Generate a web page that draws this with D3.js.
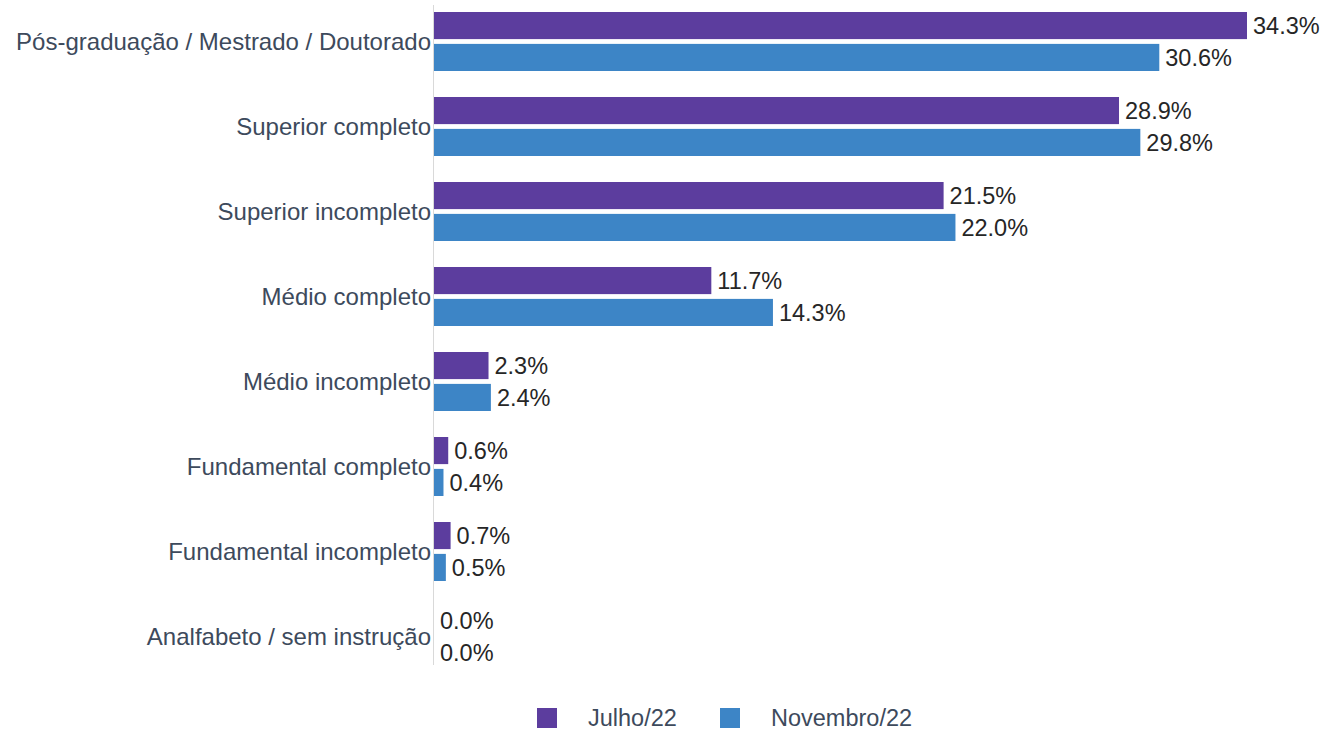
<!DOCTYPE html>
<html>
<head>
<meta charset="utf-8">
<script src="https://cdn.jsdelivr.net/npm/d3@7"></script>
<style>
  body { margin: 0; background: #fff; }
  svg { display: block; font-family: "Liberation Sans", Arial, sans-serif; }
</style>
</head>
<body>
<svg id="chart" width="1326" height="730"></svg>
<script>
const categories = [
  "Pós-graduação / Mestrado / Doutorado",
  "Superior completo",
  "Superior incompleto",
  "Médio completo",
  "Médio incompleto",
  "Fundamental completo",
  "Fundamental incompleto",
  "Analfabeto / sem instrução"
];
const seriesNames = ["Julho/22", "Novembro/22"];
const julho = [34.3, 28.9, 21.5, 11.7, 2.3, 0.6, 0.7, 0.0];
const novembro = [30.6, 29.8, 22.0, 14.3, 2.4, 0.4, 0.5, 0.0];
const colors = ["#5c3d9e", "#3d85c6"];

const svg = d3.select("#chart");
const plotLeft = 434;
const plotTop = -1;
const plotH = 680;

const x = d3.scaleLinear().domain([0, 34.3]).range([plotLeft, 1247]);
const y = d3.scaleBand().domain(categories).range([plotTop, plotTop + plotH]).paddingInner(0.306).paddingOuter(0.153);
const inner = d3.scaleBand().domain(seriesNames).range([0, y.bandwidth()]).paddingInner(0.15);

const rows = categories.map((c, i) => ({ cat: c, values: [julho[i], novembro[i]] }));

// axis line
svg.append("line")
  .attr("x1", plotLeft - 0.5).attr("x2", plotLeft - 0.5)
  .attr("y1", plotTop + 6).attr("y2", plotTop + plotH - 14)
  .attr("stroke", "#d9d9d9").attr("stroke-width", 1);

const groups = svg.selectAll("g.group")
  .data(rows)
  .join("g")
  .attr("class", "group")
  .attr("transform", d => `translate(0,${y(d.cat)})`);

groups.selectAll("rect")
  .data(d => d.values.map((v, k) => ({ v, k })))
  .join("rect")
  .attr("x", x(0))
  .attr("y", d => inner(seriesNames[d.k]))
  .attr("width", d => x(d.v) - x(0))
  .attr("height", inner.bandwidth())
  .attr("fill", d => colors[d.k]);

groups.selectAll("text.value")
  .data(d => d.values.map((v, k) => ({ v, k })))
  .join("text")
  .attr("class", "value")
  .attr("x", d => x(d.v) + 6)
  .attr("y", d => inner(seriesNames[d.k]) + inner.bandwidth() / 2)
  .attr("dy", "0.35em")
  .attr("font-size", 23.5)
  .attr("fill", "#262626")
  .text(d => d.v.toFixed(1) + "%");

// category labels
svg.selectAll("text.cat")
  .data(categories)
  .join("text")
  .attr("class", "cat")
  .attr("x", plotLeft - 3)
  .attr("y", d => y(d) + y.bandwidth() / 2)
  .attr("dy", "0.35em")
  .attr("text-anchor", "end")
  .attr("font-size", 24)
  .attr("fill", "#3d4a5c")
  .text(d => d);

// legend
const legendX = [537, 720];
const legend = svg.selectAll("g.legend")
  .data(seriesNames)
  .join("g")
  .attr("class", "legend")
  .attr("transform", (d, i) => `translate(${legendX[i]},708)`);

legend.append("rect")
  .attr("width", 20).attr("height", 20)
  .attr("fill", (d, i) => colors[i]);

legend.append("text")
  .attr("x", 51).attr("y", 10)
  .attr("dy", "0.35em")
  .attr("font-size", 23.5)
  .attr("fill", "#3d4a5c")
  .text(d => d);
</script>
</body>
</html>
